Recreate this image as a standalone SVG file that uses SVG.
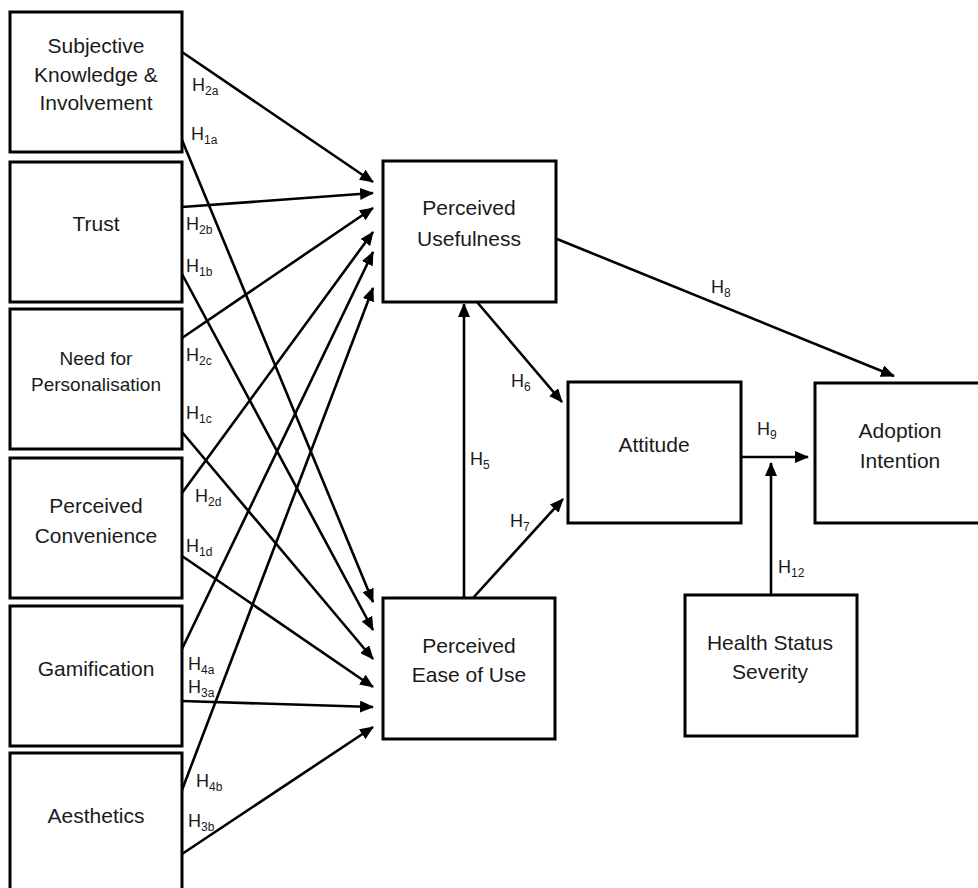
<svg xmlns="http://www.w3.org/2000/svg" width="978" height="888" viewBox="0 0 978 888">
  <style>
    .box { fill: #ffffff; stroke: #000000; stroke-width: 3; }
    .lbl { font-family: "Liberation Sans", Arial, sans-serif; font-size: 21px; fill: #1a1a1a; text-anchor: middle; }
    .lbl.sm { font-size: 19px; }
    .hyp { font-family: "Liberation Sans", Arial, sans-serif; font-size: 18px; fill: #1a1a1a; }
    .sub { font-size: 12px; }
    .edge { stroke: #000000; stroke-width: 2.6; fill: none; marker-end: url(#arrow); }
  </style>
  <defs>
    <marker id="arrow" markerUnits="userSpaceOnUse" markerWidth="14" markerHeight="12" refX="13" refY="6" orient="auto">
      <path d="M0,0 L14,6 L0,12 z" fill="#000000"/>
    </marker>
  </defs>
  <rect width="978" height="888" fill="#ffffff"/>

  <!-- connectors -->
  <g id="connectors">
    <line class="edge" x1="182" y1="52" x2="373" y2="182"/>
    <line class="edge" x1="182" y1="140" x2="373" y2="602"/>
    <line class="edge" x1="182" y1="207" x2="373" y2="193"/>
    <line class="edge" x1="182" y1="274" x2="373" y2="630"/>
    <line class="edge" x1="182" y1="338" x2="373" y2="208"/>
    <line class="edge" x1="182" y1="432" x2="373" y2="659"/>
    <line class="edge" x1="182" y1="493" x2="373" y2="232"/>
    <line class="edge" x1="182" y1="556" x2="373" y2="687"/>
    <line class="edge" x1="182" y1="649" x2="373" y2="252"/>
    <line class="edge" x1="182" y1="701" x2="373" y2="707"/>
    <line class="edge" x1="182" y1="790" x2="373" y2="288"/>
    <line class="edge" x1="182" y1="854" x2="373" y2="727"/>
    <line class="edge" x1="464" y1="598" x2="464" y2="304"/>
    <line class="edge" x1="477" y1="302" x2="562" y2="402"/>
    <line class="edge" x1="473" y1="598" x2="563" y2="499"/>
    <line class="edge" x1="557" y1="239" x2="894" y2="376"/>
    <line class="edge" x1="741" y1="457" x2="808" y2="457"/>
    <line class="edge" x1="771" y1="595" x2="771" y2="463"/>
  </g>

  <!-- hypothesis labels -->
  <g id="hypotheses">
    <text class="hyp" x="192" y="91">H<tspan class="sub" dy="4">2a</tspan></text>
    <text class="hyp" x="191" y="140">H<tspan class="sub" dy="4">1a</tspan></text>
    <text class="hyp" x="186" y="230">H<tspan class="sub" dy="4">2b</tspan></text>
    <text class="hyp" x="186" y="272">H<tspan class="sub" dy="4">1b</tspan></text>
    <text class="hyp" x="186" y="361">H<tspan class="sub" dy="4">2c</tspan></text>
    <text class="hyp" x="186" y="419">H<tspan class="sub" dy="4">1c</tspan></text>
    <text class="hyp" x="195" y="502">H<tspan class="sub" dy="4">2d</tspan></text>
    <text class="hyp" x="186" y="552">H<tspan class="sub" dy="4">1d</tspan></text>
    <text class="hyp" x="188" y="670">H<tspan class="sub" dy="4">4a</tspan></text>
    <text class="hyp" x="188" y="693">H<tspan class="sub" dy="4">3a</tspan></text>
    <text class="hyp" x="196" y="787">H<tspan class="sub" dy="4">4b</tspan></text>
    <text class="hyp" x="188" y="827">H<tspan class="sub" dy="4">3b</tspan></text>
    <text class="hyp" x="470" y="465">H<tspan class="sub" dy="4">5</tspan></text>
    <text class="hyp" x="511" y="387">H<tspan class="sub" dy="4">6</tspan></text>
    <text class="hyp" x="510" y="527">H<tspan class="sub" dy="4">7</tspan></text>
    <text class="hyp" x="711" y="293">H<tspan class="sub" dy="4">8</tspan></text>
    <text class="hyp" x="757" y="435">H<tspan class="sub" dy="4">9</tspan></text>
    <text class="hyp" x="778" y="573">H<tspan class="sub" dy="4">12</tspan></text>
  </g>

  <!-- antecedent constructs -->
  <g id="subjective-knowledge">
    <rect class="box" x="10" y="12" width="172" height="140"/>
    <text class="lbl" x="96" y="53">Subjective</text>
    <text class="lbl" x="96" y="82">Knowledge &amp;</text>
    <text class="lbl" x="96" y="110">Involvement</text>
  </g>
  <g id="trust">
    <rect class="box" x="10" y="162" width="172" height="140"/>
    <text class="lbl" x="96" y="231">Trust</text>
  </g>
  <g id="need-for-personalisation">
    <rect class="box" x="10" y="309" width="172" height="140"/>
    <text class="lbl sm" x="96" y="365">Need for</text>
    <text class="lbl sm" x="96" y="391">Personalisation</text>
  </g>
  <g id="perceived-convenience">
    <rect class="box" x="10" y="458" width="172" height="140"/>
    <text class="lbl" x="96" y="513">Perceived</text>
    <text class="lbl" x="96" y="543">Convenience</text>
  </g>
  <g id="gamification">
    <rect class="box" x="10" y="606" width="172" height="140"/>
    <text class="lbl" x="96" y="676">Gamification</text>
  </g>
  <g id="aesthetics">
    <rect class="box" x="10" y="753" width="172" height="145"/>
    <text class="lbl" x="96" y="823">Aesthetics</text>
  </g>

  <!-- TAM core -->
  <g id="perceived-usefulness">
    <rect class="box" x="383" y="161" width="173" height="141"/>
    <text class="lbl" x="469" y="215">Perceived</text>
    <text class="lbl" x="469" y="246">Usefulness</text>
  </g>
  <g id="perceived-ease-of-use">
    <rect class="box" x="383" y="598" width="172" height="141"/>
    <text class="lbl" x="469" y="653">Perceived</text>
    <text class="lbl" x="469" y="682">Ease of Use</text>
  </g>
  <g id="attitude">
    <rect class="box" x="568" y="382" width="173" height="141"/>
    <text class="lbl" x="654" y="452">Attitude</text>
  </g>
  <g id="adoption-intention">
    <rect class="box" x="815" y="383" width="170" height="140"/>
    <text class="lbl" x="900" y="438">Adoption</text>
    <text class="lbl" x="900" y="468">Intention</text>
  </g>
  <g id="health-status-severity">
    <rect class="box" x="685" y="595" width="172" height="141"/>
    <text class="lbl" x="770" y="650">Health Status</text>
    <text class="lbl" x="770" y="679">Severity</text>
  </g>
</svg>
